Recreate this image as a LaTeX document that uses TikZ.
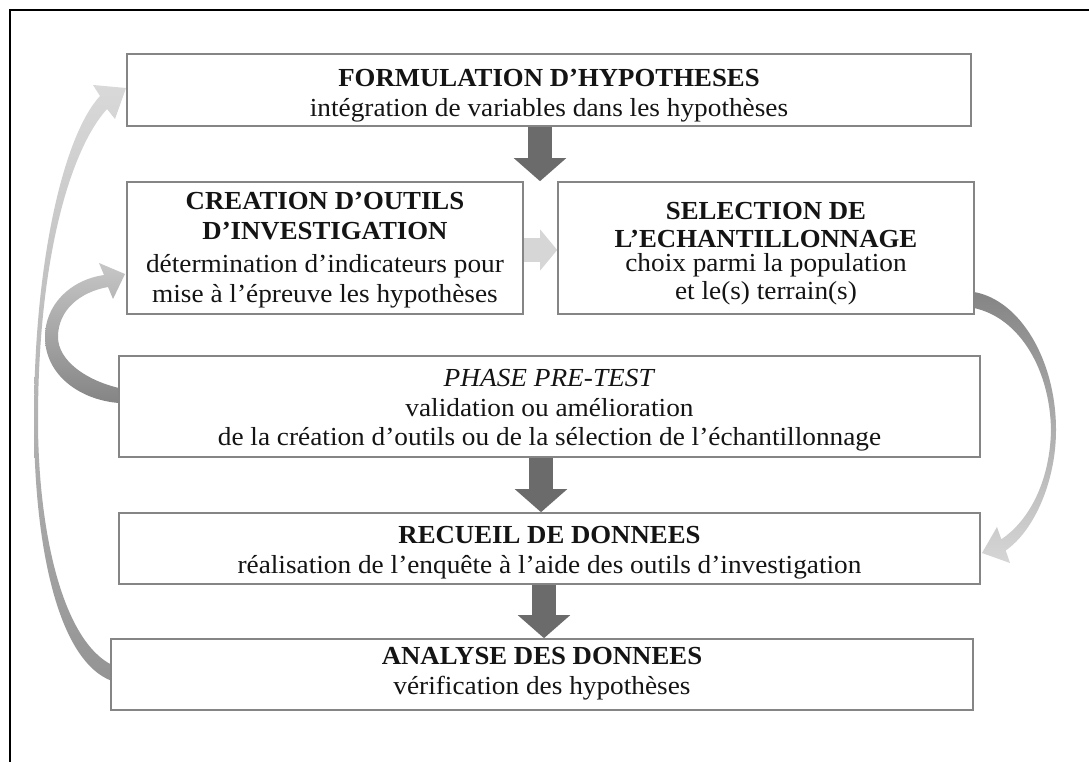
\documentclass[tikz,border=0pt]{standalone}
\usepackage{fontspec}
\setmainfont{Liberation Serif}[UprightFeatures={FakeStretch=1.05},BoldFeatures={FakeStretch=1.03},ItalicFeatures={FakeStretch=1.05}]
\usetikzlibrary{arrows.meta}
\begin{document}
\begin{tikzpicture}[x=1pt,y=-1pt,
  box/.style={draw=black!48, line width=1.6pt, fill=white, inner sep=0pt},
  txt/.style={align=center, inner sep=0pt, text=black!92, font=\fontsize{26}{29.5}\selectfont},
  darkarrow/.style={draw=black!58, line width=24pt, -{Triangle[length=23pt,width=51pt]}},
  lightarrow/.style={draw=black!16, line width=24pt, -{Triangle[length=17pt,width=40pt]}},
  frame/.style={line width=2.5pt, black}
]
\useasboundingbox (0,0) rectangle (1089,762);
\fill[white] (0,0) rectangle (1089,762);
\draw[frame] (10,762) -- (10,10) -- (1089,10);

% curved arrows (drawn shapes)
\shade[top color=black!15, middle color=black!9, bottom color=black!42]
  (112,665) .. controls (62,640) and (38,530) .. (38,420)
  .. controls (38,260) and (70,150) .. (107,109)
  -- (115,119) -- (126,88) -- (93,85) -- (100,96)
  .. controls (64,135) and (34,260) .. (34,420)
  .. controls (34,540) and (56,660) .. (112,681) -- cycle;

\shade[top color=black!22, bottom color=black!48]
  (119,388) .. controls (85,380) and (58,360) .. (58,337)
  .. controls (58,310) and (80,292) .. (108,287)
  -- (113,299) -- (125,274) -- (99,263) -- (104,275)
  .. controls (70,280) and (45,305) .. (45,337)
  .. controls (45,375) and (80,400) .. (119,403) -- cycle;

\shade[top color=black!48, middle color=black!16, bottom color=black!16]
  (974,292) .. controls (1020,300) and (1056,360) .. (1056,430)
  .. controls (1056,480) and (1035,530) .. (1005.7,550.5)
  -- (1010,563) -- (982,553) -- (997,527) -- (1001.3,539.3)
  .. controls (1030,520) and (1050,480) .. (1051,430)
  .. controls (1050,370) and (1020,318) .. (974,308) -- cycle;

% boxes
\node[box, minimum width=844pt, minimum height=72pt] (b1) at (549,90) {};
\node[box, minimum width=396pt, minimum height=132pt] (b2) at (325,248) {};
\node[box, minimum width=416pt, minimum height=132pt] (b3) at (766,248) {};
\node[box, minimum width=861pt, minimum height=101pt] (b4) at (549.5,406.5) {};
\node[box, minimum width=861pt, minimum height=71pt] (b5) at (549.5,548.5) {};
\node[box, minimum width=862pt, minimum height=71pt] (b6) at (542,674.5) {};

% texts
\node[txt] (t1) at ([yshift=-5.5pt]b1.center)
  {\textbf{FORMULATION D’HYPOTHESES}\\intégration de variables dans les hypothèses};
\node[txt] (t2) at ([yshift=-2pt]b2.center)
  {\textbf{CREATION D’OUTILS}\\\textbf{D’INVESTIGATION}\\[4pt]détermination d’indicateurs pour\\mise à l’épreuve les hypothèses};
\node[txt, font=\fontsize{26}{28.5}\selectfont] (t3) at ([yshift=-5.5pt]b3.center)
  {\textbf{SELECTION DE}\\\textbf{L’ECHANTILLONNAGE}\\[-5pt]choix parmi la population\\et le(s) terrain(s)};
\node[txt] (t4) at ([yshift=-4pt]b4.center)
  {\textit{PHASE PRE-TEST}\\validation ou amélioration\\de la création d’outils ou de la sélection de l’échantillonnage};
\node[txt] (t5) at ([yshift=-4pt]b5.center)
  {\textbf{RECUEIL DE DONNEES}\\réalisation de l’enquête à l’aide des outils d’investigation};
\node[txt] (t6) at ([yshift=1pt]b6.center)
  {\textbf{ANALYSE DES DONNEES}\\vérification des hypothèses};

% straight block arrows
\coordinate (x1) at (540,0);
\coordinate (x2) at (541,0);
\coordinate (x3) at (544,0);
\coordinate (ylight) at (0,250);
\draw[darkarrow] (b1.south -| x1) -- (b2.north -| x1);
\draw[darkarrow] (b4.south -| x2) -- (b5.north -| x2);
\draw[darkarrow] (b5.south -| x3) -- (b6.north -| x3);
\draw[lightarrow] (b2.east |- ylight) -- (b3.west |- ylight);
\end{tikzpicture}
\end{document}
